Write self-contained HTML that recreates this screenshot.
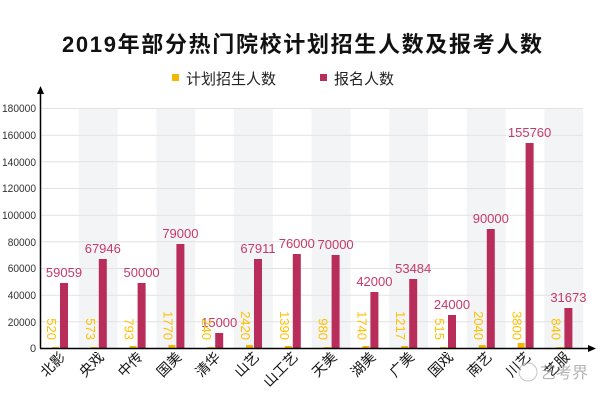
<!DOCTYPE html>
<html><head><meta charset="utf-8"><style>
body{margin:0;background:#fff}
svg{display:block;font-family:"Liberation Sans","Noto Sans CJK SC",sans-serif}
</style></head><body>
<svg width="600" height="400" viewBox="0 0 600 400" xmlns="http://www.w3.org/2000/svg">
<rect width="600" height="400" fill="#fff"/>
<text x="62" y="52" font-size="22" font-weight="bold" fill="#111" textLength="480" lengthAdjust="spacing">2019年部分热门院校计划招生人数及报考人数</text>
<rect x="172" y="74" width="7" height="7" fill="#f5b800"/>
<text x="186" y="84" font-size="15" fill="#222">计划招生人数</text>
<rect x="320" y="74" width="7" height="7" fill="#b92d5a"/>
<text x="334" y="84" font-size="15" fill="#222">报名人数</text>
<g fill="#f3f4f6">
<rect x="78.8" y="108" width="38.8" height="240"/>
<rect x="156.4" y="108" width="38.8" height="240"/>
<rect x="234" y="108" width="38.8" height="240"/>
<rect x="311.6" y="108" width="38.8" height="240"/>
<rect x="389.2" y="108" width="38.8" height="240"/>
<rect x="466.8" y="108" width="38.8" height="240"/>
<rect x="544.4" y="108" width="38.8" height="240"/>
</g>
<g stroke="#e2e2e2" stroke-width="1">
<line x1="40" x2="583" y1="108.5" y2="108.5"/><line x1="40" x2="583" y1="135.2" y2="135.2"/>
<line x1="40" x2="583" y1="161.8" y2="161.8"/><line x1="40" x2="583" y1="188.5" y2="188.5"/>
<line x1="40" x2="583" y1="215.2" y2="215.2"/><line x1="40" x2="583" y1="241.8" y2="241.8"/>
<line x1="40" x2="583" y1="268.5" y2="268.5"/><line x1="40" x2="583" y1="295.2" y2="295.2"/>
<line x1="40" x2="583" y1="321.8" y2="321.8"/>
</g>
<g font-size="11" fill="#333">
<text x="2" y="112" textLength="34" lengthAdjust="spacingAndGlyphs">180000</text>
<text x="2" y="139" textLength="34" lengthAdjust="spacingAndGlyphs">160000</text>
<text x="2" y="166" textLength="34" lengthAdjust="spacingAndGlyphs">140000</text>
<text x="2" y="192" textLength="34" lengthAdjust="spacingAndGlyphs">120000</text>
<text x="2" y="219" textLength="34" lengthAdjust="spacingAndGlyphs">100000</text>
<text x="7.7" y="246" textLength="28.3" lengthAdjust="spacingAndGlyphs">80000</text>
<text x="7.7" y="272" textLength="28.3" lengthAdjust="spacingAndGlyphs">60000</text>
<text x="7.7" y="299" textLength="28.3" lengthAdjust="spacingAndGlyphs">40000</text>
<text x="7.7" y="326" textLength="28.3" lengthAdjust="spacingAndGlyphs">20000</text>
<text x="30" y="352">0</text>
</g>
<g fill="#b92d5a">
<rect x="60" y="283" width="8" height="65"/>
<rect x="98.8" y="259" width="8" height="89"/>
<rect x="137.6" y="283" width="8" height="65"/>
<rect x="176.4" y="244" width="8" height="104"/>
<rect x="215.2" y="333" width="8" height="15"/>
<rect x="254" y="259" width="8" height="89"/>
<rect x="292.8" y="254" width="8" height="94"/>
<rect x="331.6" y="255" width="8" height="93"/>
<rect x="370.4" y="292" width="8" height="56"/>
<rect x="409.2" y="279" width="8" height="69"/>
<rect x="448" y="315" width="8" height="33"/>
<rect x="486.8" y="229" width="8" height="119"/>
<rect x="525.6" y="143" width="8" height="205"/>
<rect x="564.4" y="308" width="8" height="40"/>
</g>
<g fill="#f5b800">
<rect x="52" y="347" width="7" height="1"/>
<rect x="90.8" y="347" width="7" height="1"/>
<rect x="129.6" y="346" width="7" height="2"/>
<rect x="168.4" y="345" width="7" height="3"/>
<rect x="207.2" y="347" width="7" height="1"/>
<rect x="246" y="345" width="7" height="3"/>
<rect x="284.8" y="346" width="7" height="2"/>
<rect x="323.6" y="347" width="7" height="1"/>
<rect x="362.4" y="346" width="7" height="2"/>
<rect x="401.2" y="346" width="7" height="2"/>
<rect x="440" y="347" width="7" height="1"/>
<rect x="478.8" y="345" width="7" height="3"/>
<rect x="517.6" y="343" width="7" height="5"/>
<rect x="556.4" y="347" width="7" height="1"/>
</g>
<g font-size="13" fill="#c63a66" text-anchor="middle">
<text x="64" y="277">59059</text><text x="102.8" y="253">67946</text><text x="141.6" y="277">50000</text>
<text x="180.4" y="238">79000</text><text x="219.2" y="327">15000</text><text x="258" y="253">67911</text>
<text x="296.8" y="248">76000</text><text x="335.6" y="249">70000</text><text x="374.4" y="286">42000</text>
<text x="413.2" y="273">53484</text><text x="452" y="309">24000</text><text x="490.8" y="223">90000</text>
<text x="529.6" y="137">155760</text><text x="568.4" y="302">31673</text>
</g>
<g font-size="13" fill="#ffc000" text-anchor="end">
<text transform="translate(47,340) rotate(90)">520</text>
<text transform="translate(85.8,340) rotate(90)">573</text>
<text transform="translate(124.6,340) rotate(90)">793</text>
<text transform="translate(163.4,340) rotate(90)">1770</text>
<text transform="translate(202.2,340) rotate(90)">240</text>
<text transform="translate(241,340) rotate(90)">2420</text>
<text transform="translate(279.8,340) rotate(90)">1390</text>
<text transform="translate(318.6,340) rotate(90)">980</text>
<text transform="translate(357.4,340) rotate(90)">1740</text>
<text transform="translate(396.2,340) rotate(90)">1217</text>
<text transform="translate(435,340) rotate(90)">515</text>
<text transform="translate(473.8,340) rotate(90)">2040</text>
<text transform="translate(512.6,340) rotate(90)">3800</text>
<text transform="translate(551.4,340) rotate(90)">840</text>
</g>
<g stroke="#000" stroke-width="1.5" fill="none">
<line x1="40.5" y1="92" x2="40.5" y2="348.5"/>
<line x1="40" y1="348.5" x2="590" y2="348.5"/>
</g>
<path d="M40.5 86 L37 94 L44 94 Z" fill="#000"/>
<path d="M596 348.5 L588 345 L588 352 Z" fill="#000"/>
<g font-size="14" fill="#111" text-anchor="end">
<text transform="translate(66,358) rotate(-45)">北影</text>
<text transform="translate(104.8,358) rotate(-45)">央戏</text>
<text transform="translate(143.6,358) rotate(-45)">中传</text>
<text transform="translate(182.4,358) rotate(-45)">国美</text>
<text transform="translate(221.2,358) rotate(-45)">清华</text>
<text transform="translate(260,358) rotate(-45)">山艺</text>
<text transform="translate(298.8,358) rotate(-45)">山工艺</text>
<text transform="translate(337.6,358) rotate(-45)">天美</text>
<text transform="translate(376.4,358) rotate(-45)">湖美</text>
<text transform="translate(415.2,358) rotate(-45)">广美</text>
<text transform="translate(454,358) rotate(-45)">国戏</text>
<text transform="translate(492.8,358) rotate(-45)">南艺</text>
<text transform="translate(531.6,358) rotate(-45)">川艺</text>
<text transform="translate(570.4,358) rotate(-45)">艺服</text>
</g>
<g opacity="0.55">
<circle cx="528" cy="372" r="9" fill="#fff" stroke="#999"/>
<text x="540" y="378" font-size="16" fill="#777">艺考界</text>
</g>
</svg>
</body></html>
